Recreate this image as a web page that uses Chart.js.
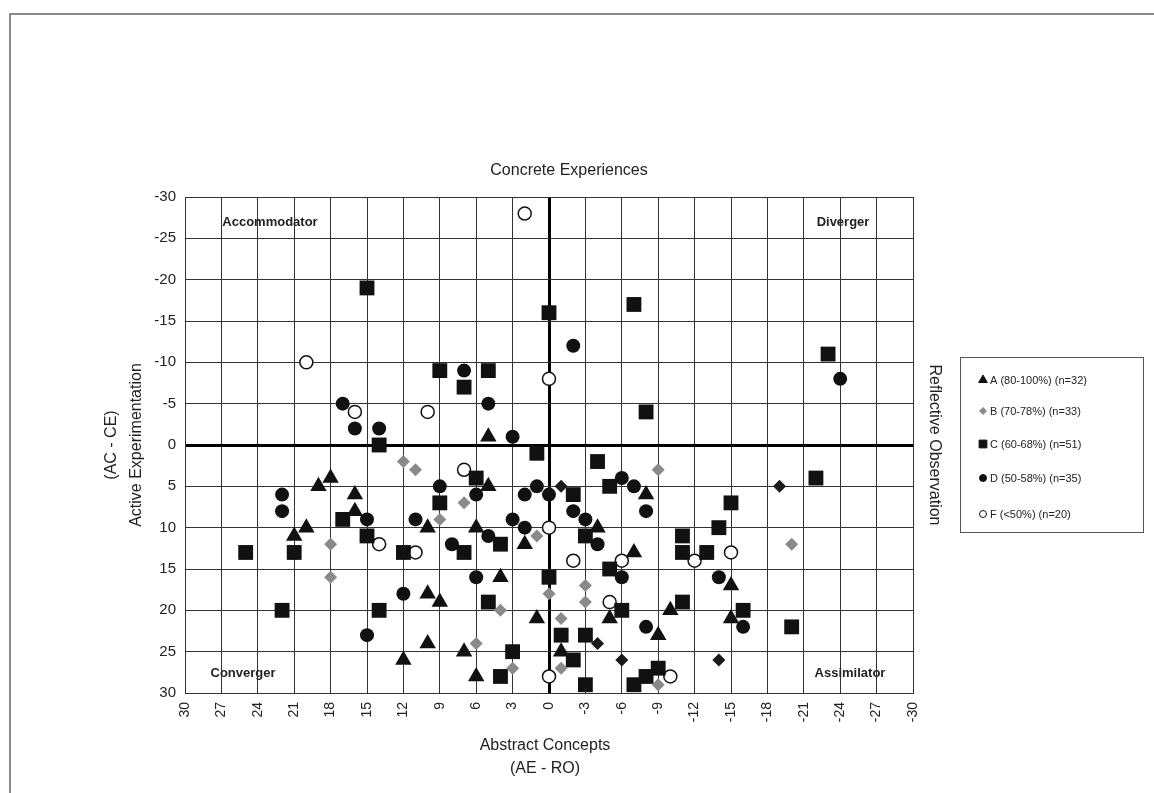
<!DOCTYPE html>
<html>
<head>
<meta charset="utf-8">
<script src="https://cdn.jsdelivr.net/npm/chart.js@4/dist/chart.umd.min.js"></script>
<style>
  html, body { margin: 0; padding: 0; background: #fff; }
  canvas { display: block; }
</style>
</head>
<body>
<canvas id="kolb" width="1154" height="793"></canvas>
<script>
// learning style scores (x = AE - RO, y = AC - CE) per grade group
const gradeA = [
  [5, -1], [5, 5], [6, 10], [10, 10], [2, 12], [4, 16], [10, 18], [9, 19], [1, 21], [10, 24],
  [7, 25], [12, 26], [6, 28], [21, 11], [20, 10], [19, 5], [18, 4], [16, 6], [16, 8], [-4, 10],
  [-8, 6], [-7, 13], [-15, 17], [-5, 21], [-10, 20], [-15, 21], [-9, 23], [-1, 25]
];
const gradeB = [
  [12, 2], [11, 3], [7, 7], [9, 9], [1, 11], [18, 12], [18, 16], [4, 20], [6, 24], [3, 27],
  [-9, 3], [-20, 12], [-3, 17], [-3, 19], [0, 18], [-1, 21], [-1, 27], [-9, 29]
];
const gradeBdark = [[-1, 5], [-19, 5], [-4, 24], [-6, 26], [-14, 26]];
const gradeC = [
  [15, -19], [0, -16], [9, -9], [5, -9], [7, -7], [14, 0], [-7, -17], [-8, -4], [-23, -11], [1, 1],
  [6, 4], [9, 7], [4, 12], [7, 13], [5, 19], [3, 25], [4, 28], [25, 13], [21, 13], [17, 9],
  [15, 11], [12, 13], [14, 20], [22, 20], [-4, 2], [-5, 5], [-2, 6], [-3, 11], [-11, 11], [-14, 10],
  [-15, 7], [-11, 13], [-13, 13], [-22, 4], [-5, 15], [-6, 20], [-11, 19], [-16, 20], [-20, 22], [-1, 23],
  [-3, 23], [-2, 26], [-9, 27], [-8, 28], [-7, 29], [-3, 29], [0, 16]
];
const gradeD = [
  [7, -9], [5, -5], [17, -5], [16, -2], [14, -2], [3, -1], [-2, -12], [-24, -8], [9, 5], [6, 6],
  [11, 9], [5, 11], [1, 5], [2, 6], [3, 9], [2, 10], [8, 12], [6, 16], [12, 18], [15, 23],
  [22, 6], [22, 8], [15, 9], [0, 6], [-6, 4], [-7, 5], [-8, 8], [-2, 8], [-3, 9], [-4, 12],
  [-6, 16], [-14, 16], [-16, 22], [-8, 22]
];
const gradeF = [
  [2, -28], [20, -10], [16, -4], [10, -4], [0, -8], [7, 3], [14, 12], [11, 13], [0, 10], [-2, 14],
  [-6, 14], [-12, 14], [-15, 13], [-5, 19], [-10, 28], [0, 28]
];

const legendLabels = ['A (80-100%) (n=32)', 'B (70-78%) (n=33)', 'C (60-68%) (n=51)', 'D (50-58%) (n=35)', 'F (<50%) (n=20)'];
const quadrants = ['Accommodator', 'Diverger', 'Converger', 'Assimilator'];

const FONT = '"Liberation Sans", Arial, sans-serif';
const toXY = arr => arr.map(([x, y]) => ({ x, y }));

const markers = [
  { pointStyle: 'triangle', radius: 9.5, bg: '#111', border: '#111' },
  { pointStyle: 'rectRot', radius: 6.5, bg: '#8a8a8a', border: '#8a8a8a' },
  { pointStyle: 'rect', radius: 10.5, bg: '#111', border: '#111' },
  { pointStyle: 'circle', radius: 7, bg: '#111', border: '#111' },
  { pointStyle: 'circle', radius: 6.5, bg: '#fff', border: '#111' }
];

function ds(label, data, m, bw) {
  return {
    label,
    data: toXY(data),
    pointStyle: m.pointStyle,
    pointRadius: m.radius,
    pointHoverRadius: m.radius,
    backgroundColor: m.bg,
    borderColor: m.border,
    borderWidth: bw
  };
}

const overlay = {
  id: 'overlay',
  afterDraw(chart) {
    const c = chart.ctx;
    const a = chart.chartArea;
    const cx = (a.left + a.right) / 2;
    const cy = (a.top + a.bottom) / 2;
    c.save();

    // outer frame
    c.strokeStyle = '#666';
    c.lineWidth = 1.5;
    c.beginPath();
    c.moveTo(10, 793);
    c.lineTo(10, 14);
    c.lineTo(1154, 14);
    c.stroke();

    c.fillStyle = '#222';
    c.textAlign = 'center';
    c.textBaseline = 'middle';
    c.font = '16px ' + FONT;
    c.fillText('Concrete Experiences', 569, 171);
    c.fillText('Abstract Concepts', cx - 4, 746);
    c.fillText('(AE - RO)', cx - 4, 769);

    c.save();
    c.translate(137, cy);
    c.rotate(-Math.PI / 2);
    c.fillText('Active Experimentation', 0, 0);
    c.restore();
    c.save();
    c.translate(112, cy);
    c.rotate(-Math.PI / 2);
    c.fillText('(AC - CE)', 0, 0);
    c.restore();
    c.save();
    c.translate(934, cy);
    c.rotate(Math.PI / 2);
    c.fillText('Reflective Observation', 0, 0);
    c.restore();

    // quadrant names
    c.font = 'bold 13px ' + FONT;
    c.fillText(quadrants[0], 270, 222);
    c.fillText(quadrants[1], 843, 222);
    c.fillText(quadrants[2], 243, 673);
    c.fillText(quadrants[3], 850, 673);

    // legend box
    c.strokeStyle = '#555';
    c.lineWidth = 1;
    c.strokeRect(960.5, 357.5, 183, 175);
    const rows = [380, 411, 444, 478, 514];
    const legMarkers = [
      { pointStyle: 'triangle', radius: 5, bg: '#111', border: '#111' },
      { pointStyle: 'rectRot', radius: 3.5, bg: '#8a8a8a', border: '#8a8a8a' },
      { pointStyle: 'rect', radius: 5.5, bg: '#111', border: '#111' },
      { pointStyle: 'circle', radius: 3.5, bg: '#111', border: '#111' },
      { pointStyle: 'circle', radius: 3.5, bg: '#fff', border: '#111' }
    ];
    c.font = '11px ' + FONT;
    c.textAlign = 'left';
    legendLabels.forEach((txt, i) => {
      const m = legMarkers[i];
      c.fillStyle = m.bg;
      c.strokeStyle = m.border;
      Chart.helpers.drawPoint(c, { pointStyle: m.pointStyle, radius: m.radius, rotation: 0, borderWidth: 1 }, 983, rows[i]);
      c.fillStyle = '#222';
      c.fillText(txt, 990, rows[i] + 1);
    });
    c.restore();
  }
};

const thick = ctx => (ctx.tick && ctx.tick.value === 0 ? 3 : 1);
const gridColor = ctx => (ctx.tick && ctx.tick.value === 0 ? '#000' : '#333');

new Chart(document.getElementById('kolb'), {
  type: 'scatter',
  data: {
    datasets: [
      ds(legendLabels[0], gradeA, markers[0], 0),
      ds(legendLabels[1], gradeB, markers[1], 0),
      ds('B', gradeBdark, { pointStyle: 'rectRot', radius: 6.5, bg: '#1a1a1a', border: '#1a1a1a' }, 0),
      ds(legendLabels[2], gradeC, markers[2], 0),
      ds(legendLabels[3], gradeD, markers[3], 0),
      ds(legendLabels[4], gradeF, markers[4], 1.5)
    ]
  },
  options: {
    responsive: false,
    animation: false,
    layout: { padding: { top: 197, right: 241, left: 0, bottom: 0 } },
    plugins: { legend: { display: false }, tooltip: { enabled: false } },
    scales: {
      x: {
        type: 'linear',
        min: -30,
        max: 30,
        reverse: true,
        afterFit: s => { s.height = 100; },
        grid: { color: gridColor, lineWidth: thick, drawTicks: false },
        border: { display: true, color: '#333', width: 1 },
        ticks: {
          stepSize: 3,
          autoSkip: false,
          maxRotation: 90,
          minRotation: 90,
          padding: 9,
          color: '#222',
          font: { family: FONT, size: 14 }
        }
      },
      y: {
        type: 'linear',
        min: -30,
        max: 30,
        reverse: true,
        afterFit: s => { s.width = 185; },
        grid: { color: gridColor, lineWidth: thick, drawTicks: false },
        border: { display: true, color: '#333', width: 1 },
        ticks: {
          stepSize: 5,
          padding: 9,
          color: '#222',
          font: { family: FONT, size: 15 }
        }
      }
    }
  },
  plugins: [overlay]
});
</script>
</body>
</html>
